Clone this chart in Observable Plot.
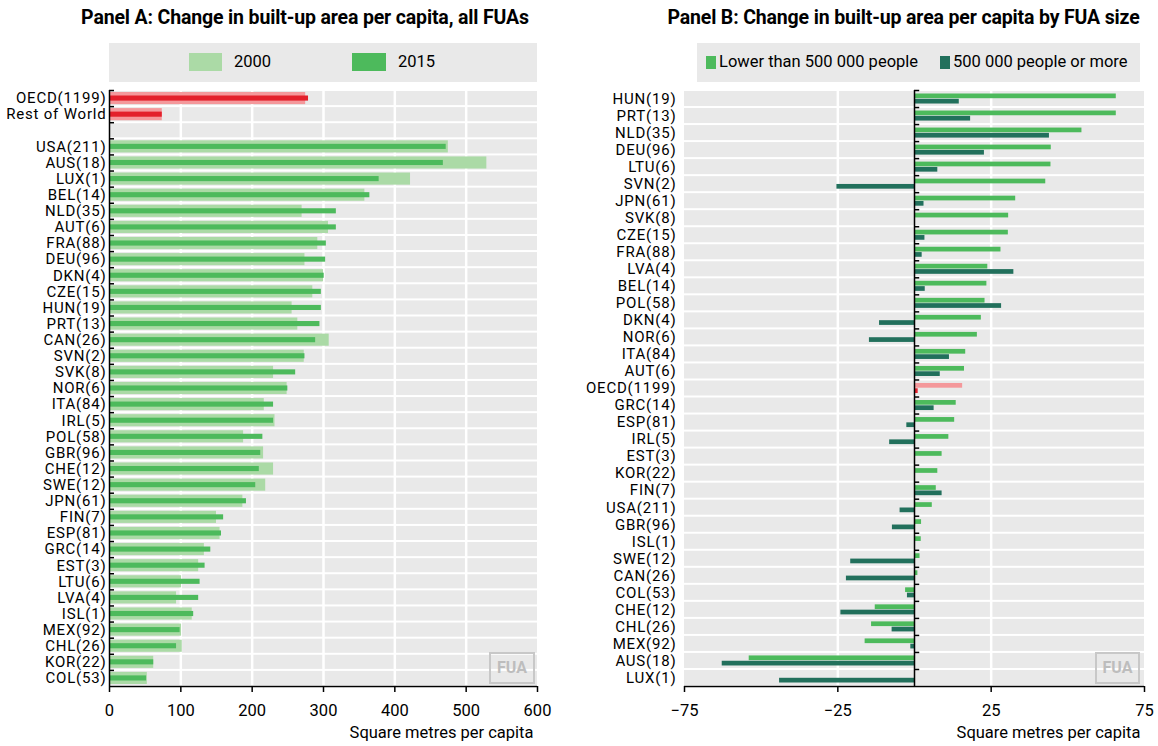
<!DOCTYPE html>
<html><head><meta charset="utf-8">
<script src="https://cdn.jsdelivr.net/npm/d3@7"></script>
<script src="https://cdn.jsdelivr.net/npm/@observablehq/plot@0.6"></script>
<style>
body{margin:0;background:#fff;width:1158px;height:746px;position:relative;overflow:hidden;font-family:Roboto,"Liberation Sans",sans-serif;color:#000}
.abs{position:absolute}
.title{font-weight:bold;font-size:19.5px;white-space:nowrap;text-align:center;line-height:22px;letter-spacing:-0.15px}
.legend{background:#e9e9e9}
.item{position:absolute;font-size:16.5px;line-height:20px;white-space:nowrap}
.sw{position:absolute}
.fua{position:absolute;border:2px solid #c8c8c8;color:#bdbdbd;font-weight:bold;font-size:16px;text-align:center;box-sizing:border-box;line-height:28px}
[aria-label="y-axis tick label"] text{letter-spacing:0.8px}
</style></head><body>
<div class="abs title" style="left:0;top:7px;width:610px">Panel A: Change in built-up area per capita, all FUAs</div>
<div class="abs title" style="left:660px;top:7px;width:487px">Panel B: Change in built-up area per capita by FUA size</div>

<div class="abs legend" style="left:109px;top:43px;width:428px;height:39px"></div>
<div class="sw" id="swA1" style="left:189px;top:53px;width:33px;height:18px"></div>
<div class="item" style="left:234px;top:52px">2000</div>
<div class="sw" id="swA2" style="left:352px;top:53px;width:34px;height:18px"></div>
<div class="item" style="left:398px;top:52px">2015</div>

<div class="abs legend" style="left:697px;top:43px;width:443px;height:39px"></div>
<div class="sw" id="swB1" style="left:706px;top:56px;width:10px;height:13px"></div>
<div class="item" style="left:719px;top:52px">Lower than 500 000 people</div>
<div class="sw" id="swB2" style="left:940px;top:56px;width:10px;height:13px"></div>
<div class="item" style="left:953px;top:52px">500 000 people or more</div>

<div id="chartA" class="abs" style="left:0;top:86px"></div>
<div id="chartB" class="abs" style="left:580px;top:86px"></div>
<div class="fua" style="left:489px;top:652px;width:46px;height:32px">FUA</div>
<div class="fua" style="left:1095px;top:652px;width:45px;height:32px">FUA</div>
<script>
// ---------- Panel A data ----------
const catsA = ["OECD(1199)","Rest of World","","USA(211)","AUS(18)","LUX(1)","BEL(14)","NLD(35)","AUT(6)","FRA(88)","DEU(96)","DKN(4)","CZE(15)","HUN(19)","PRT(13)","CAN(26)","SVN(2)","SVK(8)","NOR(6)","ITA(84)","IRL(5)","POL(58)","GBR(96)","CHE(12)","SWE(12)","JPN(61)","FIN(7)","ESP(81)","GRC(14)","EST(3)","LTU(6)","LVA(4)","ISL(1)","MEX(92)","CHL(26)","KOR(22)","COL(53)"];
const values2000 = [275,74,null,475,529,422,358,270,307,292,274,300,285,256,264,308,273,230,249,217,232,188,216,230,219,187,150,155,133,125,101,94,116,101,102,62,53];
const values2015 = [279,74,null,472,468,378,365,318,318,304,303,301,297,297,295,289,274,261,250,230,230,215,212,210,205,192,160,157,142,134,127,125,118,99,94,62,52];
const xTicksA = [0,100,200,300,400,500,600];

// ---------- Panel B data ----------
const catsB = ["HUN(19)","PRT(13)","NLD(35)","DEU(96)","LTU(6)","SVN(2)","JPN(61)","SVK(8)","CZE(15)","FRA(88)","LVA(4)","BEL(14)","POL(58)","DKN(4)","NOR(6)","ITA(84)","AUT(6)","OECD(1199)","GRC(14)","ESP(81)","IRL(5)","EST(3)","KOR(22)","FIN(7)","USA(211)","GBR(96)","ISL(1)","SWE(12)","CAN(26)","COL(53)","CHE(12)","CHL(26)","MEX(92)","AUS(18)","LUX(1)"];
const smallFUA = [65.8,65.8,54.6,44.6,44.5,42.8,33,30.7,30.6,28.2,23.9,23.6,23,21.8,20.5,16.7,16.3,15.7,13.6,13.1,11.2,9,7.6,7.1,5.8,2.3,2.2,1.8,1.1,-2.9,-12.8,-14,-16.1,-53.9,null];
const largeFUA = [14.6,18.3,44,22.8,7.6,-25.3,3.1,null,3.4,2.5,32.4,3.5,28.4,-11.4,-14.7,11.4,8.4,1.2,6.4,-2.5,-8.1,null,null,9,-4.7,-7.2,null,-20.8,-22.2,-2.3,-24,-7.3,-1.2,-62.7,-44];
const xTicksB = [-75,-25,25,75];

const FONT = 'Roboto,"Liberation Sans",sans-serif';
const GREY = "#e9e9e9";
const C = {light:"#abdaa6", dark:"#4dba5c", pink:"#f4989b", red:"#e3202b", teal:"#22705c"};
document.getElementById("swA1").style.background = C.light;
document.getElementById("swA2").style.background = C.dark;
document.getElementById("swB1").style.background = C.dark;
document.getElementById("swB2").style.background = C.teal;

const isOECD = c => c.startsWith("OECD") || c === "Rest of World";
const STYLE = {fontFamily:FONT, fontSize:"16px", color:"#000", background:"transparent", overflow:"visible"};

// ---------- Panel A ----------
const rowsA = catsA.map((c,i)=>({i, cat:c, v2000:values2000[i], v2015:values2015[i], agg:isOECD(c)}));
const barsA = rowsA.filter(d=>d.v2000!=null);
const nA = catsA.length;
const dA = [xTicksA[0], xTicksA[xTicksA.length-1]];
const chartA = Plot.plot({
  width:540, height:660, marginLeft:109, marginRight:3, marginTop:4, marginBottom:60,
  style:STYLE,
  x:{domain:dA, axis:null},
  y:{domain:[-0.5, nA-0.5], reverse:true, axis:null},
  color:{type:"identity"},
  marks:[
    Plot.rectX(rowsA, {x1:dA[0], x2:dA[1], y1:d=>d.i-0.5, y2:d=>d.i+0.5, fill:GREY, insetTop:1, insetBottom:1}),
    Plot.ruleX(xTicksA.slice(1,-1), {stroke:"white", strokeWidth:2.5}),
    Plot.rectX(barsA, {x1:0, x2:"v2000", y1:d=>d.i-0.5, y2:d=>d.i+0.5, fill:d=>d.agg?C.pink:C.light, insetTop:2, insetBottom:2}),
    Plot.rectX(barsA, {x1:0, x2:"v2015", y1:d=>d.i-0.5, y2:d=>d.i+0.5, fill:d=>d.agg?C.red:C.dark, insetTop:5.5, insetBottom:5.5}),
    Plot.ruleX([0], {stroke:"black", strokeWidth:1.5}),
    Plot.ruleY(rowsA, {y:d=>d.i-0.5, x1:0, x2:7, stroke:"black", strokeWidth:1.5}),
    Plot.ruleY([nA-0.5], {stroke:"black", strokeWidth:1.5}),
    Plot.axisX({ticks:xTicksA, tickSize:6, tickPadding:12, label:null, strokeWidth:1.5, fontSize:16.5}),
    Plot.axisY({ticks:rowsA.map(d=>d.i), tickFormat:i=>catsA[i], tickSize:0, tickPadding:3, label:null, fontSize:15}),
    Plot.text(["Square metres per capita"], {text:d=>d, frameAnchor:"bottom-right", textAnchor:"end", dx:-4, dy:51, fontSize:16.5})
  ]
});
document.getElementById("chartA").append(chartA);

// ---------- Panel B ----------
const rowsB = catsB.map((c,i)=>({i, cat:c, small:smallFUA[i], large:largeFUA[i], agg:isOECD(c)}));
const nB = catsB.length;
const dB = [xTicksB[0], xTicksB[xTicksB.length-1]];
const chartB = Plot.plot({
  width:578, height:660, marginLeft:104, marginRight:14, marginTop:4, marginBottom:60,
  style:STYLE,
  x:{domain:dB, axis:null},
  y:{domain:[-0.5, nB-0.5], reverse:true, axis:null},
  color:{type:"identity"},
  marks:[
    Plot.rectX(rowsB, {x1:dB[0], x2:dB[1], y1:d=>d.i-0.5, y2:d=>d.i+0.5, fill:GREY, insetTop:1, insetBottom:1}),
    Plot.ruleX(xTicksB.slice(1,-1), {stroke:"white", strokeWidth:2.5}),
    Plot.rectX(rowsB.filter(d=>d.small!=null), {x1:0, x2:"small", y1:d=>d.i-0.5, y2:d=>d.i, fill:d=>d.agg?C.pink:C.dark, insetTop:3.5, insetBottom:0.3}),
    Plot.rectX(rowsB.filter(d=>d.large!=null), {x1:0, x2:"large", y1:d=>d.i, y2:d=>d.i+0.5, fill:d=>d.agg?C.red:C.teal, insetTop:0.3, insetBottom:3.5}),
    Plot.ruleX([0], {stroke:"black", strokeWidth:1.5}),
    Plot.ruleY(rowsB, {y:d=>d.i-0.5, x1:0, x2:1.7, stroke:"black", strokeWidth:1.5}),
    Plot.ruleY([nB-0.5], {stroke:"black", strokeWidth:1.5}),
    Plot.axisX({ticks:xTicksB, tickSize:6, tickPadding:12, label:null, strokeWidth:1.5, fontSize:16.5}),
    Plot.axisY({ticks:rowsB.map(d=>d.i), tickFormat:i=>catsB[i], tickSize:0, tickPadding:8, label:null, fontSize:15}),
    Plot.text(["Square metres per capita"], {text:d=>d, frameAnchor:"bottom-right", textAnchor:"end", dx:-4, dy:51, fontSize:16.5})
  ]
});
document.getElementById("chartB").append(chartB);
</script>
</body></html>
